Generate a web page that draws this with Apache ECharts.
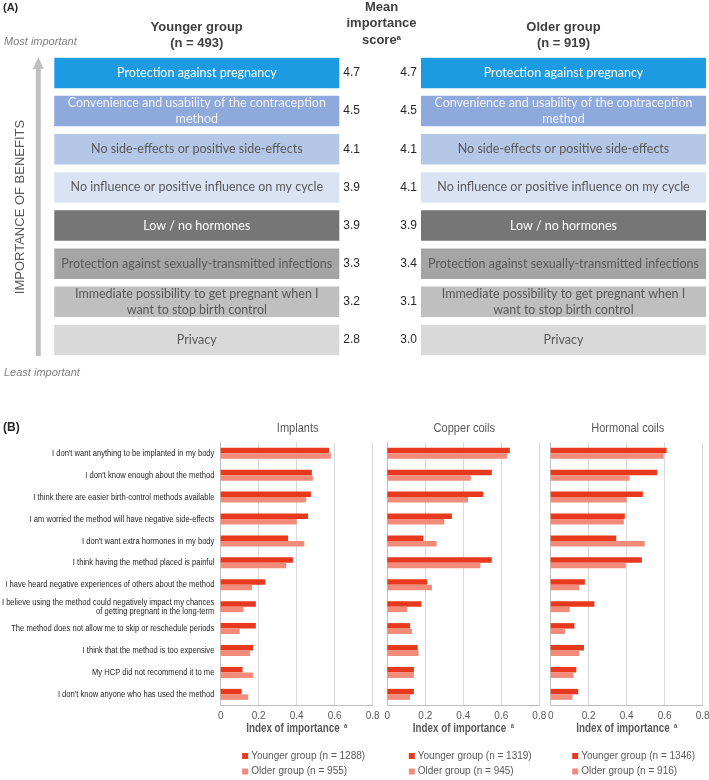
<!DOCTYPE html>
<html><head><meta charset="utf-8">
<script src="https://cdn.jsdelivr.net/npm/echarts@6/dist/echarts.min.js"></script>
<style>html,body{margin:0;padding:0;background:#fff}#c{width:709px;height:780px}</style>
</head><body><div id="c"></div>
<script>
// ---------- Panel A data ----------
const benefits = [
  'Protection against pregnancy',
  'Convenience and usability of the contraception\nmethod',
  'No side-effects or positive side-effects',
  'No influence or positive influence on my cycle',
  'Low / no hormones',
  'Protection against sexually-transmitted infections',
  'Immediate possibility to get pregnant when I\nwant to stop birth control',
  'Privacy'
];
const youngerScores = ['4.7', '4.5', '4.1', '3.9', '3.9', '3.3', '3.2', '2.8'];
const olderScores   = ['4.7', '4.5', '4.1', '4.1', '3.9', '3.4', '3.1', '3.0'];
const groupTitles = ['Younger group', 'Older group'];
const groupCounts = ['(n = 493)', '(n = 919)'];

// ---------- Panel B data ----------
const reasons = [
  "I don't want anything to be implanted in my body",
  "I don't know enough about the method",
  "I think there are easier birth-control methods available",
  "I am worried the method will have negative side-effects",
  "I don't want extra hormones in my body",
  "I think having the method placed is painful",
  "I have heard negative experiences of others about the method",
  "I believe using the method could negatively impact my chances\nof getting pregnant in the long-term",
  "The method does not allow me to skip or reschedule periods",
  "I think that the method is too expensive",
  "My HCP did not recommend it to me",
  "I don't know anyone who has used the method"
];
const methods = ['Implants', 'Copper coils', 'Hormonal coils'];
const youngerN = [1288, 1319, 1346];
const olderN = [955, 945, 916];
const implantsYounger = [0.57, 0.48, 0.475, 0.46, 0.355, 0.38, 0.235, 0.185, 0.185, 0.17, 0.115, 0.11];
const implantsOlder   = [0.58, 0.485, 0.45, 0.40, 0.44, 0.345, 0.165, 0.12, 0.10, 0.155, 0.17, 0.145];
const copperYounger   = [0.645, 0.55, 0.505, 0.34, 0.19, 0.55, 0.21, 0.18, 0.12, 0.16, 0.14, 0.14];
const copperOlder     = [0.63, 0.44, 0.425, 0.30, 0.26, 0.49, 0.235, 0.105, 0.13, 0.165, 0.14, 0.12];
const hormonalYounger = [0.61, 0.56, 0.485, 0.39, 0.345, 0.48, 0.18, 0.23, 0.125, 0.175, 0.135, 0.145];
const hormonalOlder   = [0.595, 0.415, 0.40, 0.385, 0.495, 0.395, 0.15, 0.10, 0.075, 0.15, 0.12, 0.115];
const xTickLabels = ['0', '0.2', '0.4', '0.6', '0.8'];

// ---------- styles ----------
const boxColors = ['#1C9BE2', '#8EA9DB', '#B4C7E7', '#DAE3F3', '#767676', '#A5A5A5', '#BFBFBF', '#D9D9D9'];
const boxTextColors = ['#FFFFFF', '#F2F2F2', '#595959', '#595959', '#FFFFFF', '#595959', '#595959', '#595959'];
const youngColor = '#E8391E';
const oldColor = '#F28B79';
const boxFont = 'Lato';
const SQ = 0.8; // horizontal squeeze imitating a narrow font

const chart = echarts.init(document.getElementById('c'), null, {renderer: 'canvas'});

const grids = [];
const xAxes = [];
const yAxes = [];
const series = [];
const legends = [];

// Panel A grids
const aGrids = [{left: 54.3, width: 285}, {left: 421, width: 285}];
aGrids.forEach((g, k) => {
  grids.push({left: g.left, width: g.width, top: 53.9, height: 305.1, outerBoundsMode: 'none', containLabel: false});
  xAxes.push({type: 'value', gridIndex: k, min: 0, max: 1, show: false});
  const scores = k === 0 ? youngerScores : olderScores;
  yAxes.push({
    type: 'category', gridIndex: k, data: benefits, inverse: true,
    position: k === 0 ? 'right' : 'left',
    axisLine: {show: false}, axisTick: {show: false},
    axisLabel: {
      margin: 4, color: '#262626', fontFamily: 'Liberation Sans', fontSize: 12,
      formatter: (v, i) => scores[i]
    }
  });
  series.push({
    type: 'bar', xAxisIndex: k, yAxisIndex: k, barWidth: 30.5, silent: true,
    data: benefits.map((b, i) => ({
      value: 1,
      itemStyle: {color: boxColors[i]},
      label: {color: boxTextColors[i]}
    })),
    label: {
      show: true, position: 'inside', formatter: '{b}',
      fontFamily: boxFont, fontSize: 12.5, lineHeight: 16.5, align: 'center'
    }
  });
});

// Panel B grids
const bLefts = [220.7, 387.3, 550.7];
const bWidth = 152;
const bData = [[implantsYounger, implantsOlder], [copperYounger, copperOlder], [hormonalYounger, hormonalOlder]];
bLefts.forEach((left, m) => {
  const gi = 2 + m;
  grids.push({left: left, width: bWidth, top: 442.3, height: 263, outerBoundsMode: 'none', containLabel: false});
  xAxes.push({
    type: 'value', gridIndex: gi, min: 0, max: 0.8, interval: 0.2,
    axisLine: {show: true, lineStyle: {color: '#BFBFBF'}},
    axisTick: {show: false},
    splitLine: {show: true, lineStyle: {color: '#D9D9D9', width: 1}},
    axisLabel: {
      margin: 6, color: '#595959', fontFamily: 'Liberation Sans', fontSize: 10,
      formatter: (v) => xTickLabels[Math.round(v / 0.2)]
    }
  });
  yAxes.push({
    type: 'category', gridIndex: gi, data: reasons, inverse: true,
    axisLine: {show: true, lineStyle: {color: '#BFBFBF'}},
    axisTick: {show: false},
    axisLabel: {show: false}
  });
  const yName = 'Younger group (n = ' + youngerN[m] + ')';
  const oName = 'Older group (n = ' + olderN[m] + ')';
  series.push({
    name: yName, type: 'bar', xAxisIndex: gi, yAxisIndex: gi,
    data: bData[m][0], itemStyle: {color: youngColor},
    barGap: '0%', barCategoryGap: '50%'
  });
  series.push({
    name: oName, type: 'bar', xAxisIndex: gi, yAxisIndex: gi,
    data: bData[m][1], itemStyle: {color: oldColor},
    barGap: '0%', barCategoryGap: '50%'
  });
  legends.push({
    data: [yName, oName], orient: 'vertical', left: left + 21.5, top: 751, padding: 0,
    itemWidth: 6, itemHeight: 6, itemGap: 5.5, icon: 'rect', selectedMode: false,
    textStyle: {color: '#595959', fontFamily: 'Liberation Sans', fontSize: 10, padding: [0, 0, 0, -2]}
  });
});

const txt = (text, x, y, font, fill, extra) => Object.assign({
  type: 'text', x: x, y: y, silent: true,
  style: {text: text, fill: fill || '#404040', font: font, align: 'center', verticalAlign: 'middle'}
}, extra || {});

const graphics = [
  {type: 'text', x: 3, y: 8, style: {text: '(A)', fill: '#262626', font: 'bold 11px "Liberation Sans"', verticalAlign: 'middle'}},
  {type: 'text', x: 3, y: 428, style: {text: '(B)', fill: '#262626', font: 'bold 12px "Liberation Sans"', verticalAlign: 'middle'}},
  txt(groupTitles[0], 196.7, 27.3, 'bold 13px "Liberation Sans"'),
  txt(groupCounts[0], 196.7, 43.5, 'bold 13px "Liberation Sans"'),
  txt(groupTitles[1], 563.5, 27.3, 'bold 13px "Liberation Sans"'),
  txt(groupCounts[1], 563.5, 43.5, 'bold 13px "Liberation Sans"'),
  txt('Mean', 381.5, 7, 'bold 13px "Liberation Sans"'),
  txt('importance', 381.5, 23.3, 'bold 13px "Liberation Sans"'),
  {type: 'text', x: 381.5, y: 40, style: {
    text: 'score{s|a}', fill: '#404040', font: 'bold 13px "Liberation Sans"', align: 'center', verticalAlign: 'middle',
    rich: {s: {fontSize: 8, fontWeight: 'bold', verticalAlign: 'top', fill: '#404040'}}
  }},
  {type: 'text', x: 4, y: 42, style: {text: 'Most important', fill: '#7F7F7F', font: 'italic 11px "Liberation Sans"', verticalAlign: 'middle'}},
  {type: 'text', x: 4, y: 373, style: {text: 'Least important', fill: '#7F7F7F', font: 'italic 11px "Liberation Sans"', verticalAlign: 'middle'}},
  {type: 'rect', shape: {x: 35.8, y: 68, width: 5, height: 288}, style: {fill: '#C0C0C0'}, silent: true},
  {type: 'polygon', shape: {points: [[38.3, 57], [32.8, 69], [43.8, 69]]}, style: {fill: '#C0C0C0'}, silent: true},
  txt('IMPORTANCE OF BENEFITS', 20, 207, '13px "Liberation Sans"', '#595959', {rotation: Math.PI / 2})
];
methods.forEach((name, m) => {
  const cx = bLefts[m] + bWidth / 2;
  graphics.push(txt(name, cx + 1, 428, '13px "Liberation Sans"', '#595959', {scaleX: 0.85}));
  graphics.push({
    type: 'text', x: cx, y: 728.3, scaleX: 0.82, silent: true,
    style: {
      text: 'Index of importance {s|a}', fill: '#595959', font: 'bold 12px "Liberation Sans"',
      align: 'center', verticalAlign: 'middle',
      rich: {s: {fontSize: 7, fontWeight: 'bold', verticalAlign: 'top', fill: '#595959', padding: [0, 0, 0, 2]}}
    }
  });
});

chart.setOption({
  animation: false,
  backgroundColor: '#ffffff',
  grid: grids,
  xAxis: xAxes,
  yAxis: yAxes,
  series: series,
  legend: legends,
  graphic: graphics
});

// category labels of panel B placed at the category axis positions (narrow text imitation)
const labelGraphics = reasons.map((r, i) => ({
  type: 'text', x: bLefts[0] - 6.3, y: chart.convertToPixel({yAxisIndex: 2}, i), scaleX: SQ, silent: true,
  style: {text: r, fill: '#262626', font: '9.5px "Liberation Sans"', align: 'right', verticalAlign: 'middle', lineHeight: 9.3}
}));
chart.setOption({graphic: graphics.concat(labelGraphics)});
</script>
</body></html>
